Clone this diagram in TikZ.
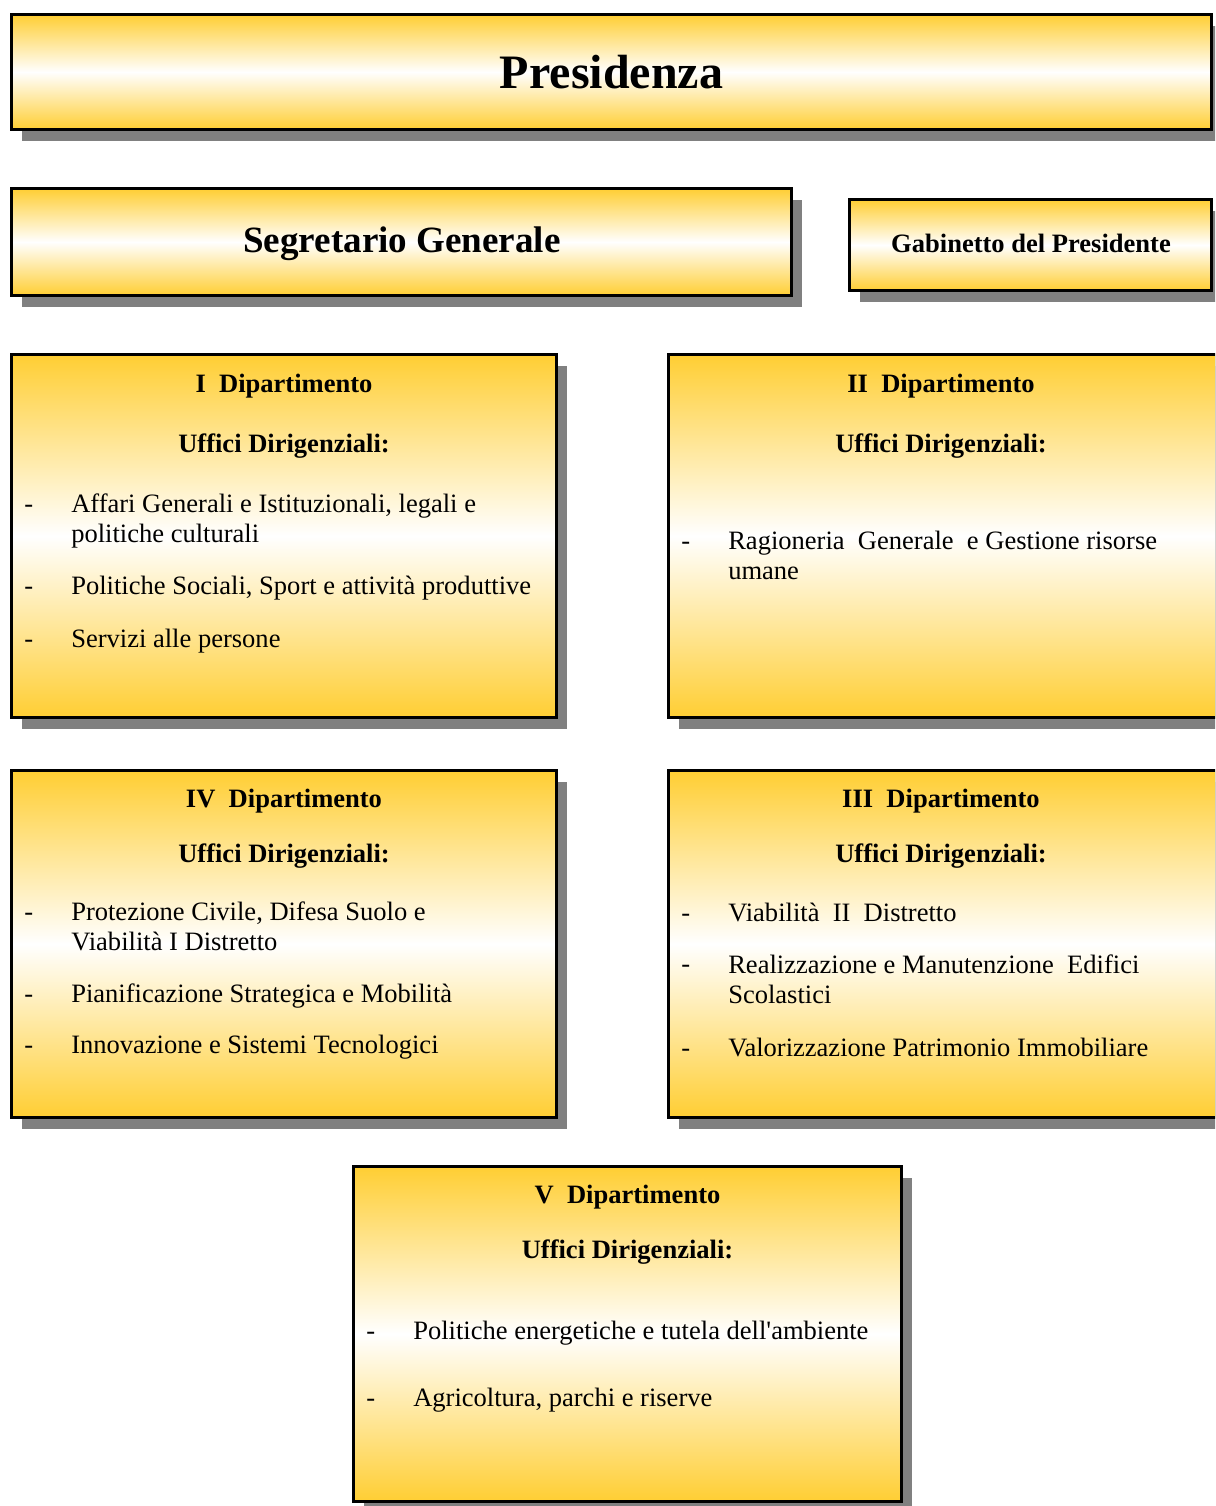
\documentclass[tikz,border=0pt]{standalone}
\usepackage{fontspec}
\setmainfont{Liberation Serif}
\usetikzlibrary{shadows}
\definecolor{gold}{RGB}{255,206,51}
\definecolor{shadowgray}{RGB}{128,128,128}

\tikzset{
  panel/.style={draw=black, line width=2.25pt, inner sep=0pt,
    top color=gold, bottom color=gold, middle color=white,
    drop shadow={shadow xshift=7.9pt, shadow yshift=-8.6pt, fill=shadowgray, opacity=1}},
  bodyfont/.style={font=\fontsize{19.9pt}{22.5pt}\selectfont},
  headtext/.style={inner sep=0pt, anchor=base, font=\fontsize{19.9pt}{22.5pt}\selectfont\bfseries},
  % multi-line items are anchored on the baseline of their last line
  itemtext/.style={inner sep=0pt, anchor=base west, align=left, bodyfont},
  bullet/.style={inner sep=0pt, anchor=base west, bodyfont},
}

\begin{document}
\begin{tikzpicture}[x=0.75pt, y=-0.75pt]
  \clip (0,0) rectangle (1215,1506);

  % top level
  \node[panel, minimum width=900pt, minimum height=86.25pt] (pres) at (611.5,72) {};
  \node[inner sep=0pt, anchor=base, font=\fontsize{36pt}{40pt}\selectfont\bfseries] (prest) at (611.5,88) {Presidenza};

  \node[panel, minimum width=585pt, minimum height=80.25pt] (seg) at (401.5,242) {};
  \node[inner sep=0pt, anchor=base, font=\fontsize{27.8pt}{32pt}\selectfont\bfseries] (segt) at (402,252) {Segretario Generale};

  \node[panel, minimum width=271.5pt, minimum height=68.25pt] (gab) at (1030.5,245) {};
  \node[headtext] (gabt) at (1031,252) {Gabinetto del Presidente};

  % I Dipartimento
  \node[panel, minimum width=408.75pt, minimum height=272.25pt] (d1) at (284,536) {};
  \node[headtext] (d1t) at (284,392) {I\ \ Dipartimento};
  \node[headtext] (d1u) at (284,452) {Uffici Dirigenziali:};
  \node[bullet] (d1b1) at (24,512) {-};
  \node[itemtext] (d1i1) at (71,542) {Affari Generali e Istituzionali, legali e\\politiche culturali};
  \node[bullet] (d1b2) at (24,594) {-};
  \node[itemtext] (d1i2) at (71,594) {Politiche Sociali, Sport e attività produttive};
  \node[bullet] (d1b3) at (24,647) {-};
  \node[itemtext] (d1i3) at (71,647) {Servizi alle persone};

  % II Dipartimento
  \node[panel, minimum width=411pt, minimum height=272.25pt] (d2) at (942.5,536) {};
  \node[headtext] (d2t) at (941,392) {II\ \ Dipartimento};
  \node[headtext] (d2u) at (941,452) {Uffici Dirigenziali:};
  \node[bullet] (d2b1) at (681,549) {-};
  \node[itemtext] (d2i1) at (728,579) {Ragioneria\ \ Generale\ \ e Gestione risorse\\umane};

  % IV Dipartimento
  \node[panel, minimum width=408.75pt, minimum height=260.25pt] (d4) at (284,944) {};
  \node[headtext] (d4t) at (284,807) {IV\ \ Dipartimento};
  \node[headtext] (d4u) at (284,862) {Uffici Dirigenziali:};
  \node[bullet] (d4b1) at (24,920) {-};
  \node[itemtext] (d4i1) at (71,950) {Protezione Civile, Difesa Suolo e\\Viabilità I Distretto};
  \node[bullet] (d4b2) at (24,1002) {-};
  \node[itemtext] (d4i2) at (71,1002) {Pianificazione Strategica e Mobilità};
  \node[bullet] (d4b3) at (24,1053) {-};
  \node[itemtext] (d4i3) at (71,1053) {Innovazione e Sistemi Tecnologici};

  % III Dipartimento
  \node[panel, minimum width=411pt, minimum height=260.25pt] (d3) at (942.5,944) {};
  \node[headtext] (d3t) at (941,807) {III\ \ Dipartimento};
  \node[headtext] (d3u) at (941,862) {Uffici Dirigenziali:};
  \node[bullet] (d3b1) at (681,921) {-};
  \node[itemtext] (d3i1) at (728,921) {Viabilità\ \ II\ \ Distretto};
  \node[bullet] (d3b2) at (681,972) {-};
  \node[itemtext] (d3i2) at (728,1003) {Realizzazione e Manutenzione\ \ Edifici\\Scolastici};
  \node[bullet] (d3b3) at (681,1056) {-};
  \node[itemtext] (d3i3) at (728,1056) {Valorizzazione Patrimonio Immobiliare};

  % V Dipartimento
  \node[panel, minimum width=411pt, minimum height=251.25pt] (d5) at (627.5,1334) {};
  \node[headtext] (d5t) at (627.5,1203) {V\ \ Dipartimento};
  \node[headtext] (d5u) at (627.5,1258) {Uffici Dirigenziali:};
  \node[bullet] (d5b1) at (366,1339) {-};
  \node[itemtext] (d5i1) at (413,1339) {Politiche energetiche e tutela dell\textquotesingle ambiente};
  \node[bullet] (d5b2) at (366,1406) {-};
  \node[itemtext] (d5i2) at (413,1406) {Agricoltura, parchi e riserve};
\end{tikzpicture}
\end{document}
